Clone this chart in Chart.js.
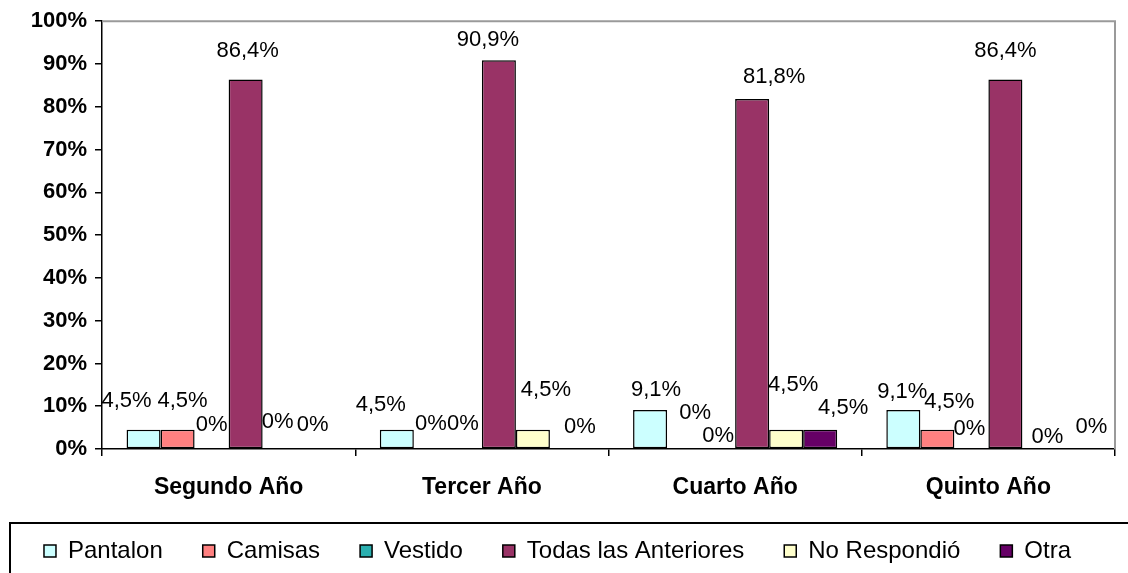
<!DOCTYPE html>
<html>
<head>
<meta charset="utf-8">
<script src="https://cdn.jsdelivr.net/npm/chart.js@4.4.1/dist/chart.umd.min.js"></script>
<style>
  html, body { margin: 0; padding: 0; background: #ffffff; }
  #wrap { width: 1128px; height: 573px; position: relative; }
</style>
</head>
<body>
<div id="wrap"><canvas id="c" width="1128" height="573"></canvas></div>
<script>
// ---- data ----
const categories = ["Segundo Año", "Tercer Año", "Cuarto Año", "Quinto Año"];
const seriesNames = ["Pantalon", "Camisas", "Vestido", "Todas las Anteriores", "No Respondió", "Otra"];
const pantalon = [4.5, 4.5, 9.1, 9.1];
const camisas = [4.5, 0, 0, 4.5];
const vestido = [0, 0, 0, 0];
const todas = [86.4, 90.9, 81.8, 86.4];
const noRespondio = [0, 4.5, 4.5, 0];
const otra = [0, 0, 4.5, 0];
const yTicks = [0, 10, 20, 30, 40, 50, 60, 70, 80, 90, 100];

// ---- styling ----
const colors = ["#CCFFFF", "#FF8080", "#2AAFAF", "#993366", "#FFFFCC", "#660066"];
const FONT = "'Liberation Sans', Arial, sans-serif";
// per-label nudges [dx, dy] in px (label placement as in original)
const labelNudge = [
  [[-17, -3], [-16, 1], [6, 6], [-1, 8]],
  [[5, -3], [0, 1], [11, -10], [12, -2]],
  [[0, 2], [-2, 1], [0, 13], [-2, 6]],
  [[2, -2], [-11, 6], [22, 4], [0, -2]],
  [[-2, -1], [13, -14], [7, -19], [8, 14]],
  [[-1, 2], [13, 4], [23, 4], [18, 4]]
];

const allSeries = [pantalon, camisas, vestido, todas, noRespondio, otra];
const PLOT_BOTTOM = 449;
const PAD_BOTTOM = 0;

function fmt(v) {
  return String(v).replace('.', ',') + '%';
}

const labelPlugin = {
  id: 'valueLabels',
  afterDatasetsDraw(chart) {
    const ctx = chart.ctx;
    ctx.save();
    ctx.font = "22px " + FONT;
    ctx.fillStyle = "#000";
    ctx.textAlign = "center";
    ctx.textBaseline = "middle";
    chart.data.datasets.forEach((ds, i) => {
      const meta = chart.getDatasetMeta(i);
      meta.data.forEach((el, j) => {
        const n = labelNudge[i][j];
        ctx.fillText(fmt(ds.data[j]), el.x + n[0], el.y - 26 + n[1]);
      });
    });
    ctx.restore();
  }
};

const framePlugin = {
  id: 'frame',
  beforeDatasetsDraw(chart) {
    const {ctx, chartArea: a} = chart;
    ctx.save();
    ctx.strokeStyle = "#9a9a9a";
    ctx.lineWidth = 2;
    ctx.beginPath();
    ctx.moveTo(a.left, a.top);
    ctx.lineTo(a.right, a.top);
    ctx.lineTo(a.right, a.bottom);
    ctx.stroke();
    ctx.restore();
  },
  afterDraw(chart) {
    const ctx = chart.ctx;
    const lg = chart.legend;
    if (!lg || !lg.legendHitBoxes.length) return;
    const hb = lg.legendHitBoxes[0];
    const cy = hb.top + hb.height / 2;
    ctx.save();
    ctx.strokeStyle = "#000";
    ctx.lineWidth = 2;
    ctx.strokeRect(10, cy - 28, 1200, 100);
    ctx.restore();
  }
};

const datasets = seriesNames.map((name, i) => ({
  label: name,
  data: allSeries[i],
  backgroundColor: colors[i],
  borderColor: "#000",
  borderWidth: (c) => (c.raw === 0 ? 0 : 1.5),
  borderSkipped: false,
  categoryPercentage: 0.806,
  barPercentage: 1.0
}));

new Chart(document.getElementById('c'), {
  type: 'bar',
  data: { labels: categories, datasets },
  plugins: [labelPlugin, framePlugin],
  options: {
    responsive: false,
    animation: false,
    devicePixelRatio: 1,
    layout: { padding: { left: 0, right: 13, top: 20, bottom: PAD_BOTTOM } },
    plugins: {
      tooltip: { enabled: false },
      legend: {
        position: 'bottom',
        labels: {
          color: "#000",
          font: { family: FONT, size: 24 },
          boxWidth: 12,
          boxHeight: 12,
          padding: 40,
          generateLabels(chart) {
            return chart.data.datasets.map((ds, i) => ({
              text: ds.label,
              fillStyle: ds.backgroundColor,
              strokeStyle: "#000",
              lineWidth: 1.5,
              hidden: false,
              datasetIndex: i,
              fontColor: "#000"
            }));
          }
        }
      }
    },
    scales: {
      x: {
        grid: { display: true, drawOnChartArea: false, drawTicks: true, tickLength: 7, color: "#000", lineWidth: 1.5, offset: true },
        border: { display: true, color: "#000", width: 1.5 },
        ticks: { color: "#000", font: { family: FONT, size: 23, weight: 'bold' }, padding: 18, maxRotation: 0 },
        afterFit(scale) {
          const lh = scale.chart.legend ? scale.chart.legend.height : 0;
          scale.height = 573 - PAD_BOTTOM - lh - PLOT_BOTTOM;
        }
      },
      y: {
        min: 0,
        max: 100,
        afterBuildTicks(scale) { scale.ticks = yTicks.map(v => ({ value: v })); },
        grid: { display: true, drawOnChartArea: false, drawTicks: true, tickLength: 7, color: "#000", lineWidth: 1.5 },
        border: { display: true, color: "#000", width: 1.5 },
        ticks: { color: "#000", font: { family: FONT, size: 22, weight: 'bold' }, padding: 8, callback: (v) => v + '%' },
        afterFit(scale) { scale.width = 102; }
      }
    }
  }
});
</script>
</body>
</html>
